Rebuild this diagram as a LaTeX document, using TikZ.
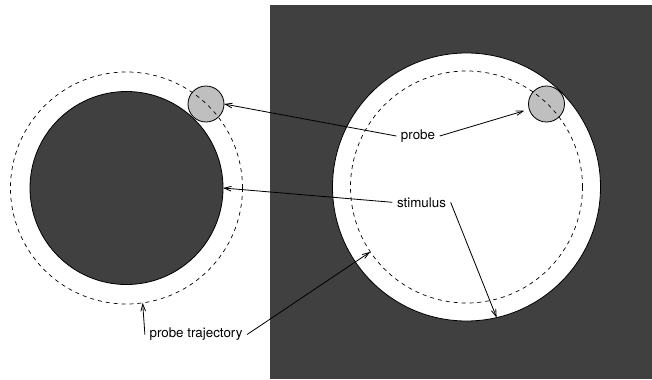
\documentclass[tikz,border=0pt]{standalone}
\usepackage{fontspec}
\setmainfont{TeX Gyre Heros}
\usetikzlibrary{arrows.meta}
\definecolor{darkgrey}{gray}{0.25}
\definecolor{probegrey}{gray}{0.75}
\tikzset{
  disk/.style={circle,draw,line width=0.7pt,inner sep=0pt,outer sep=0pt},
  probe/.style={disk,fill=probegrey,minimum size=1.08cm},
  orbit/.style={circle,draw,line width=0.6pt,dash pattern=on 3.4pt off 3.4pt,inner sep=0pt,outer sep=0pt,minimum size=6.96cm},
  tag/.style={inner sep=3.8pt}
}
\begin{document}
\begin{tikzpicture}[x=0.03cm,y=0.03cm,>={Straight Barb[length=6pt,width=4pt]},font=\fontsize{11.4}{13}\selectfont]
  \useasboundingbox (0,0) rectangle (652,379);
  % background of the right half
  \fill[darkgrey] (270,0) rectangle (652,374);
  % stimuli
  \node[disk,fill=white,minimum size=8.04cm] (rstim) at (466.5,192) {};
  \node[disk,fill=darkgrey,minimum size=5.79cm] (lstim) at (126.5,191) {};
  % probes and their paths
  \node[probe] (lprobe) at (206,275) {};
  \node[probe] (rprobe) at (546.5,275) {};
  \node[orbit] (ltraj) at (126.5,191) {};
  \node[orbit] (rtraj) at (466.5,192) {};
  % labels
  \node[tag] (probe) at (418,243) {probe};
  \node[tag] (stim) at (421.5,176.7) {stimulus};
  \node[tag] (ptraj) at (196,44.5) {probe trajectory};
  \draw[->,line width=0.7pt] (probe.west) -- (lprobe.east);
  \draw[->,line width=0.7pt,shorten >=4.5pt] (probe.east) -- (rprobe.197);
  \draw[->,line width=0.7pt] (stim.west) -- (lstim.east);
  \draw[->,line width=0.7pt] (stim.east) -- (rstim.283.5);
  \draw[->,line width=0.7pt] (ptraj.west) -- (ltraj.278);
  \draw[->,line width=0.7pt] (ptraj.east) -- (rtraj.214);
\end{tikzpicture}
\end{document}
